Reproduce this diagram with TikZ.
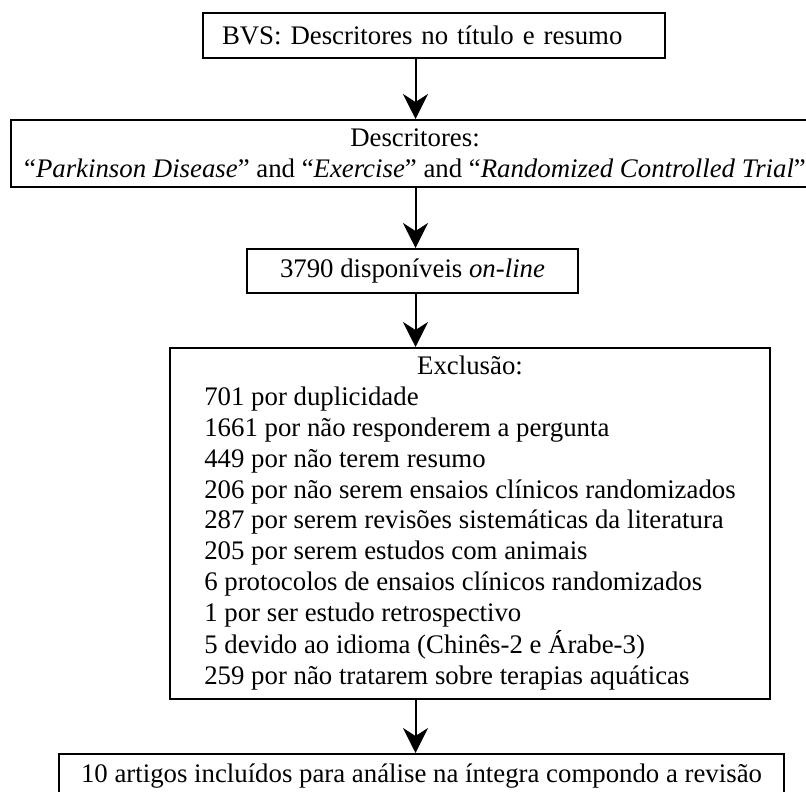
\documentclass[tikz,border=0pt]{standalone}
\usepackage{fontspec}
\setmainfont{Liberation Serif}
\usetikzlibrary{arrows.meta}

\begin{document}
\begin{tikzpicture}[x=0.5pt,y=-0.5pt,line width=1pt,>={Stealth[length=12.5pt,width=12.5pt,inset=4pt]},
  caixa/.style={draw,rectangle,inner sep=0pt,font=\fontsize{13.4}{15.4}\selectfont}]
  \useasboundingbox (0,0) rectangle (806,791);
  % caixas
  \node[caixa,minimum width=231pt,minimum height=22.5pt,text width=212pt,inner xsep=9.5pt,align=left] (bvs) at (434,35.5)
    {BVS: Descritores no título e resumo};
  \node[caixa,minimum width=404pt,minimum height=33.5pt,align=center] (desc) at (415,153.5)
    {Descritores:\\
     “\textit{Parkinson Disease}” and “\textit{Exercise}” and “\textit{Randomized Controlled Trial}”};
  \node[caixa,minimum width=165.5pt,minimum height=22pt] (disp) at (412.5,271)
    {3790 disponíveis \textit{on-line}};
  \node[caixa,minimum width=300pt,minimum height=175.5pt] (excl) at (470,523.5)
    {\begin{tabular}{@{}l@{}}
     \multicolumn{1}{@{}c@{}}{Exclusão:}\\
     701 por duplicidade\\
     1661 por não responderem a pergunta\\
     449 por não terem resumo\\
     206 por não serem ensaios clínicos randomizados\\
     287 por serem revisões sistemáticas da literatura\\
     205 por serem estudos com animais\\
     6 protocolos de ensaios clínicos randomizados\\
     1 por ser estudo retrospectivo\\
     5 devido ao idioma (Chinês-2 e Árabe-3)\\
     259 por não tratarem sobre terapias aquáticas
     \end{tabular}};
  \node[caixa,anchor=north,minimum width=362.5pt,minimum height=22pt] (final) at (421.5,753)
    {10 artigos incluídos para análise na íntegra compondo a revisão};
  % setas
  \coordinate (eixo) at (415.5,0);
  \draw[->] (bvs.south -| eixo) -- (desc.north -| eixo);
  \draw[->] (desc.south -| eixo) -- (disp.north -| eixo);
  \draw[->] (disp.south -| eixo) -- (excl.north -| eixo);
  \draw[->] (excl.south -| eixo) -- (final.north -| eixo);
\end{tikzpicture}
\end{document}
